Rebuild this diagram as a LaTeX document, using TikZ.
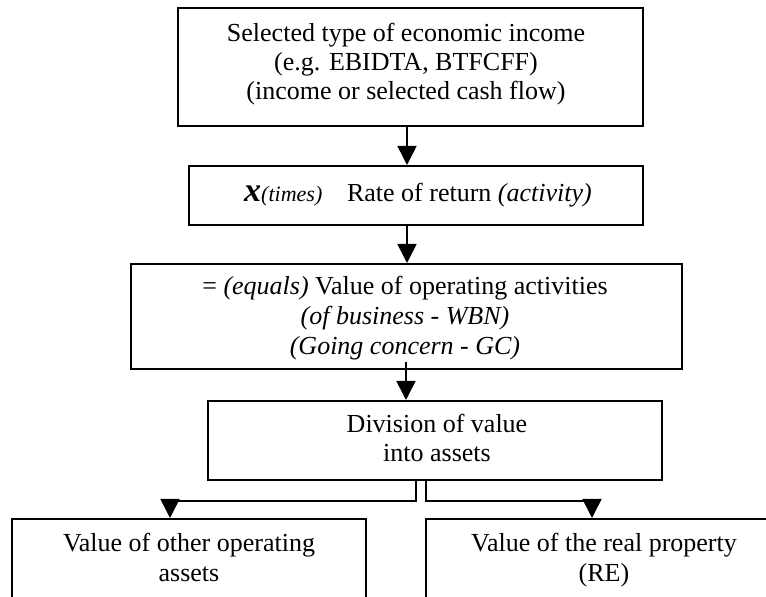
\documentclass[tikz,border=0pt]{standalone}
\usepackage{fontspec}
\setmainfont{Liberation Serif}
\usetikzlibrary{arrows.meta,fit}
\begin{document}
\begin{tikzpicture}[x=0.5pt,y=-0.5pt,
  box/.style={draw, line width=1pt, inner sep=0pt},
  txt/.style={align=center, inner sep=0pt, font=\fontsize{13}{14.5}\selectfont},
  arr/.style={line width=0.8pt, -{Triangle[length=9.5pt,width=9.5pt]}}]
\useasboundingbox (0,0) rectangle (766,597);
\clip (0,0) rectangle (766,597);
% boxes
\node[box, fit={(178,8) (643,126)}] (b1) {};
\node[box, fit={(189,166) (643,225)}] (b2) {};
\node[box, fit={(131,264) (682,369)}] (b3) {};
\node[box, fit={(208,401) (662,480)}] (b4) {};
\node[box, fit={(12,519) (366,640)}] (b5) {};
\node[box, fit={(426,519) (790,640)}] (b6) {};
% texts (base = baseline of last line)
\node[txt, anchor=base] (t1) at (406,100) {Selected type of economic income\\(e.g. EBIDTA, BTFCFF)\\(income or selected cash flow)};
\node[txt, anchor=base] (t2) at (418,202) {{\fontsize{17}{17}\selectfont\bfseries\itshape x}{\fontsize{11}{12}\selectfont\itshape(times)}\hspace{0.7em} Rate of return \textit{(activity)}};
\node[txt, anchor=base, font=\fontsize{13}{15}\selectfont] (t3) at (405,355) {= \textit{(equals)} Value of operating activities\\\textit{(of business - WBN)}\\\textit{(Going concern - GC)}};
\node[txt, anchor=base] (t4) at (437,462) {Division of value\\into assets};
\node[txt, anchor=base, font=\fontsize{13}{15}\selectfont] (t5) at (189,582) {Value of other operating\\assets};
\node[txt, anchor=base, font=\fontsize{13}{15}\selectfont] (t6) at (604,582) {Value of the real property\\(RE)};
% connector anchors
\coordinate (c1) at (407,0);
\coordinate (c3) at (406,362);
\coordinate (cl) at (416,0);
\coordinate (cr) at (426,0);
\coordinate (hl) at (170,501);
\coordinate (hr) at (592,501);
% connectors
\draw[arr] (b1.south -| c1) -- (b2.north -| c1);
\draw[arr] (b2.south -| c1) -- (b3.north -| c1);
\draw[arr] (c3) -- (b4.north -| c3);
\draw[arr] (b4.south -| cl) |- (hl) -- (b5.north -| hl);
\draw[arr] (b4.south -| cr) |- (hr) -- (b6.north -| hr);
\end{tikzpicture}
\end{document}
